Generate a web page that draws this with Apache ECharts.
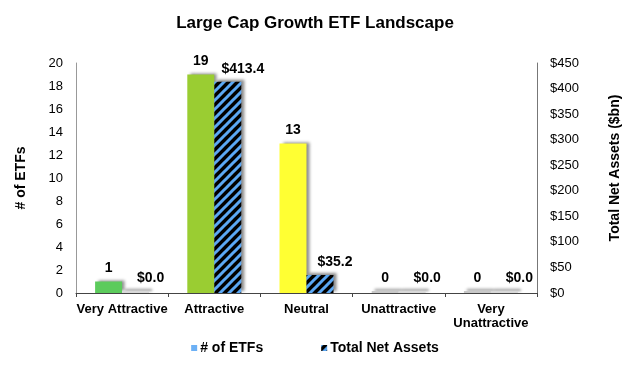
<!DOCTYPE html>
<html>
<head>
<meta charset="utf-8">
<script src="https://cdn.jsdelivr.net/npm/echarts@6/dist/echarts.min.js"></script>
<style>html,body{margin:0;padding:0;background:#fff}#c{width:630px;height:368px}</style>
</head>
<body>
<div id="c"></div>
<script>
const categories = ['Very Attractive', 'Attractive', 'Neutral', 'Unattractive', 'Very\nUnattractive'];
const etfCounts = [1, 19, 13, 0, 0];
const netAssets = [0.0, 413.4, 35.2, 0.0, 0.0];
const leftTicks = {min: 0, max: 20, interval: 2};
const rightTicks = {min: 0, max: 450, interval: 50};
const categoryColors = ['#5CCB5C', '#9ACD32', '#FFFF33', '#C8C8C8', '#C8C8C8'];

const FONT = '"Liberation Sans", Arial, sans-serif';

function hatch() {
  const s = 9;
  const c = document.createElement('canvas');
  c.width = s; c.height = s;
  const g = c.getContext('2d');
  g.fillStyle = '#000';
  g.fillRect(0, 0, s, s);
  g.strokeStyle = '#5BA8F5';
  g.lineWidth = 3;
  g.beginPath();
  for (const d of [-s, 0, s]) {
    g.moveTo(-2 + d, s + 2); g.lineTo(s + 2 + d, -2);
  }
  g.stroke();
  return c;
}
const hatchPattern = {image: hatch(), repeat: 'repeat'};

const shadow = {shadowColor: 'rgba(0,0,0,0.45)', shadowBlur: 3, shadowOffsetX: 3, shadowOffsetY: -2};
const labelStyle = {fontFamily: FONT, fontWeight: 'bold', fontSize: 14, color: '#000'};

const chart = echarts.init(document.getElementById('c'));
chart.setOption({
  animation: false,
  textStyle: {fontFamily: FONT},
  title: {
    text: 'Large Cap Growth ETF Landscape',
    left: 'center', top: 10,
    textStyle: {fontFamily: FONT, fontWeight: 'bold', fontSize: 17, color: '#000'}
  },
  legend: {
    bottom: 8, left: 'center',
    icon: 'rect', itemWidth: 6, itemHeight: 6, itemGap: 58,
    textStyle: {fontFamily: FONT, fontWeight: 'bold', fontSize: 14, color: '#000', padding: [0, 0, 0, -2]},
    data: ['# of ETFs', 'Total Net Assets']
  },
  grid: {left: 76, right: 88, top: 63, bottom: 75},
  xAxis: {
    type: 'category',
    data: categories,
    axisLine: {lineStyle: {color: '#444', width: 1}},
    axisTick: {show: true, length: 4, lineStyle: {color: '#444'}},
    axisLabel: {fontFamily: FONT, fontWeight: 'bold', fontSize: 13, color: '#000', margin: 9, lineHeight: 14, interval: 0}
  },
  yAxis: [
    {
      type: 'value', position: 'left',
      min: leftTicks.min, max: leftTicks.max, interval: leftTicks.interval,
      name: '# of ETFs', nameLocation: 'middle', nameGap: 48,
      nameTextStyle: {fontFamily: FONT, fontWeight: 'bold', fontSize: 14, color: '#000'},
      axisLine: {show: true, lineStyle: {color: '#999'}},
      axisTick: {show: false},
      splitLine: {show: false},
      axisLabel: {fontFamily: FONT, fontSize: 13, color: '#000', margin: 13}
    },
    {
      type: 'value', position: 'right',
      min: rightTicks.min, max: rightTicks.max, interval: rightTicks.interval,
      name: 'Total Net Assets ($bn)', nameLocation: 'middle', nameGap: 71,
      nameTextStyle: {fontFamily: FONT, fontWeight: 'bold', fontSize: 14, color: '#000', padding: [0, 0, 0, 20]},
      axisLine: {show: true, lineStyle: {color: '#777'}},
      axisTick: {show: false},
      splitLine: {show: false},
      axisLabel: {fontFamily: FONT, fontSize: 13, color: '#000', margin: 13, formatter: v => '$' + v}
    }
  ],
  series: [
    {
      name: '# of ETFs', type: 'bar', yAxisIndex: 0,
      barWidth: 27, barGap: '0%', barMinHeight: 2,
      itemStyle: Object.assign({color: '#6CB0F5'}, shadow),
      data: etfCounts.map((v, i) => ({value: v, itemStyle: {color: categoryColors[i]}})),
      label: Object.assign({show: true, position: 'top', distance: 6}, labelStyle)
    },
    {
      name: 'Total Net Assets', type: 'bar', yAxisIndex: 1,
      barWidth: 27, barGap: '0%', barMinHeight: 2,
      itemStyle: Object.assign({color: hatchPattern}, shadow),
      data: netAssets.map(v => v === 0 ? {value: v, itemStyle: {color: '#D8D8D8'}} : v),
      label: Object.assign({show: true, position: 'top', distance: 6, offset: [15, 0],
        formatter: p => '$' + p.value.toFixed(1)}, labelStyle)
    }
  ]
});
</script>
</body>
</html>
